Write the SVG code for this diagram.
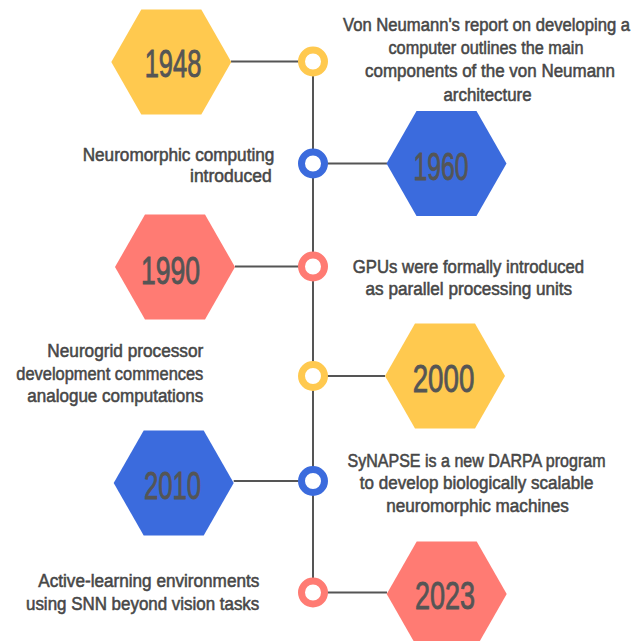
<svg xmlns="http://www.w3.org/2000/svg" width="638" height="641" viewBox="0 0 638 641">
<defs>
<polygon id="hex" points="-60,0 -30,-52.5 30,-52.5 60,0 30,52.5 -30,52.5"/>
</defs>
<style>
.y{fill:#FFC94F}.b{fill:#3B6BDD}.r{fill:#FF7B73}
.yr{stroke:#FFC94F}.br{stroke:#3B6BDD}.rr{stroke:#FF7B73}
.yr,.br,.rr{fill:#fff;stroke-width:7}
.conn line{stroke:#555;stroke-width:2}
.yt{font-family:"Liberation Sans",Arial,sans-serif;font-size:39px;fill:#555;stroke:#555;stroke-width:0.9;text-anchor:middle}
.t{font-family:"Liberation Sans",Arial,sans-serif;font-size:18px;fill:#474747;stroke:#474747;stroke-width:0.55}
.c{text-anchor:middle}.e{text-anchor:end}
</style>
<rect width="638" height="641" fill="#fff"/>
<g id="connectors" class="conn">
<line x1="313" y1="61" x2="313" y2="592.5"/>
<line x1="231" y1="61.5" x2="313" y2="61.5"/>
<line x1="313" y1="163.5" x2="387" y2="163.5"/>
<line x1="235" y1="266.5" x2="313" y2="266.5"/>
<line x1="313" y1="376" x2="385" y2="376"/>
<line x1="233.7" y1="481" x2="313" y2="481"/>
<line x1="313" y1="592.5" x2="387" y2="592.5"/>
</g>
<g id="node-1948">
<use href="#hex" class="y" x="171.3" y="62"/>
<text class="yt" x="173" y="76.7" textLength="56.7" lengthAdjust="spacingAndGlyphs">1948</text>
<circle class="yr" cx="313" cy="61.5" r="11.5"/>
<text class="t c" x="486.5" y="30.5" font-size="17.2" textLength="287" lengthAdjust="spacingAndGlyphs">Von Neumann's report on developing a</text>
<text class="t c" x="486" y="54" textLength="195" lengthAdjust="spacingAndGlyphs">computer outlines the main</text>
<text class="t c" x="490" y="77.3" textLength="250" lengthAdjust="spacingAndGlyphs">components of the von Neumann</text>
<text class="t c" x="487.5" y="100.6" textLength="88" lengthAdjust="spacingAndGlyphs">architecture</text>
</g>
<g id="node-1960">
<use href="#hex" class="b" x="446.5" y="163.5"/>
<text class="yt" x="441" y="180" textLength="55" lengthAdjust="spacingAndGlyphs">1960</text>
<circle class="br" cx="313" cy="163.5" r="11.5"/>
<text class="t e" x="274.3" y="160.7" textLength="191.6" lengthAdjust="spacingAndGlyphs">Neuromorphic computing</text>
<text class="t e" x="271.7" y="182" textLength="81.7" lengthAdjust="spacingAndGlyphs">introduced</text>
</g>
<g id="node-1990">
<use href="#hex" class="r" x="175" y="267"/>
<text class="yt" x="170.6" y="283.7" textLength="59" lengthAdjust="spacingAndGlyphs">1990</text>
<circle class="rr" cx="313" cy="266.5" r="11.5"/>
<text class="t c" x="468.5" y="272.7" textLength="231.3" lengthAdjust="spacingAndGlyphs">GPUs were formally introduced</text>
<text class="t c" x="468.9" y="295" textLength="206.6" lengthAdjust="spacingAndGlyphs">as parallel processing units</text>
</g>
<g id="node-2000">
<use href="#hex" class="y" x="445" y="376"/>
<text class="yt" x="443.5" y="391.7" textLength="61.6" lengthAdjust="spacingAndGlyphs">2000</text>
<circle class="yr" cx="313" cy="376" r="11.5"/>
<text class="t e" x="203.3" y="357.3" textLength="156" lengthAdjust="spacingAndGlyphs">Neurogrid processor</text>
<text class="t e" x="203.3" y="380" textLength="187" lengthAdjust="spacingAndGlyphs">development commences</text>
<text class="t e" x="203.3" y="401.7" textLength="176" lengthAdjust="spacingAndGlyphs">analogue computations</text>
</g>
<g id="node-2010">
<use href="#hex" class="b" x="173.7" y="483"/>
<text class="yt" x="172.5" y="498.8" textLength="57.2" lengthAdjust="spacingAndGlyphs">2010</text>
<circle class="br" cx="313" cy="481" r="11.5"/>
<text class="t c" x="476.5" y="467" textLength="258" lengthAdjust="spacingAndGlyphs">SyNAPSE is a new DARPA program</text>
<text class="t c" x="476.7" y="489" textLength="233.7" lengthAdjust="spacingAndGlyphs">to develop biologically scalable</text>
<text class="t c" x="477.5" y="511.5" textLength="182.6" lengthAdjust="spacingAndGlyphs">neuromorphic machines</text>
</g>
<g id="node-2023">
<use href="#hex" class="r" x="446.7" y="594"/>
<text class="yt" x="445" y="609.3" textLength="60" lengthAdjust="spacingAndGlyphs">2023</text>
<circle class="rr" cx="313" cy="592.5" r="11.5"/>
<text class="t e" x="259.3" y="587.3" textLength="221" lengthAdjust="spacingAndGlyphs">Active-learning environments</text>
<text class="t e" x="259.3" y="610" textLength="233.3" lengthAdjust="spacingAndGlyphs">using SNN beyond vision tasks</text>
</g>
</svg>
